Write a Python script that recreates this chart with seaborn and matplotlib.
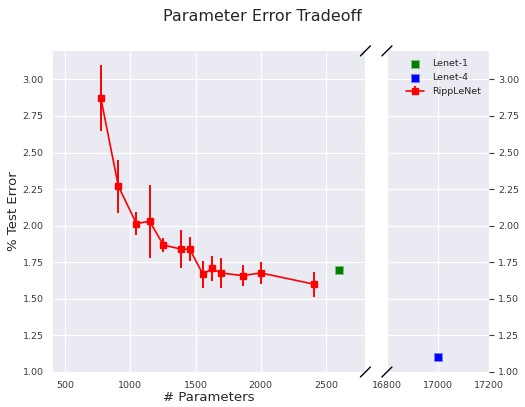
import matplotlib
matplotlib.use("Agg")
import matplotlib.pyplot as plt
import seaborn as sns
import pandas as pd

# ---- data ----
ripple_params = [773, 908, 1046, 1148, 1253, 1388, 1455, 1557, 1626, 1692, 1860, 2001, 2409]
ripple_error = [2.875, 2.27, 2.015, 2.03, 1.868, 1.84, 1.84, 1.667, 1.708, 1.677, 1.659, 1.677, 1.60]
ripple_err = [0.225, 0.18, 0.08, 0.25, 0.05, 0.13, 0.08, 0.09, 0.085, 0.10, 0.07, 0.075, 0.085]
lenet_names = ["Lenet-1", "Lenet-4"]
lenet_params = [2600, 17000]
lenet_error = [1.70, 1.10]
lenet_colors = ["green", "blue"]
left_xticks = [500, 1000, 1500, 2000, 2500]
right_xticks = [16800, 17000, 17200]
yticks = [1.00, 1.25, 1.50, 1.75, 2.00, 2.25, 2.50, 2.75, 3.00]

sns.set_style("darkgrid")
plt.rcParams["font.family"] = ["DejaVu Sans"]

fig = plt.figure(figsize=(5.25, 4.07), dpi=100)
ax1 = fig.add_axes([0.100, 0.086, 0.596, 0.789])
ax2 = fig.add_axes([0.737, 0.086, 0.195, 0.789])

eb = ax1.errorbar(ripple_params, ripple_error, yerr=ripple_err, color="red",
                  fmt="s-", ms=5, lw=1.2, elinewidth=1.4, label="RippLeNet")

l1 = pd.DataFrame({"params": [lenet_params[0]], "error": [lenet_error[0]]})
l4 = pd.DataFrame({"params": [lenet_params[1]], "error": [lenet_error[1]]})
sns.scatterplot(data=l1, x="params", y="error", ax=ax1, marker="s", s=28,
                color=lenet_colors[0], edgecolor="#7fbf7f", linewidth=0.6,
                zorder=3, legend=False)
sns.scatterplot(data=l4, x="params", y="error", ax=ax2, marker="s", s=28,
                color=lenet_colors[1], edgecolor="#7f7fff", linewidth=0.6,
                zorder=3, legend=False)
h1 = ax1.collections[-1]
h2 = ax2.collections[-1]

ylim = (1.0, 3.195)
for ax in (ax1, ax2):
    ax.set_ylim(*ylim)
    ax.set_yticks(yticks)
    ax.set_yticklabels([f"{v:.2f}" for v in yticks])
    ax.tick_params(labelsize=6.8, colors="#3a3a3a", pad=3)
    for s in ax.spines.values():
        s.set_visible(False)

ax1.set_xlim(403, 2802)
ax1.set_xticks(left_xticks)
ax2.set_xlim(16800, 17200)
ax2.set_xticks(right_xticks)
ax2.yaxis.tick_right()

ax1.set_xlabel("# Parameters", fontsize=9.5, color="#262626", labelpad=1)
ax1.set_ylabel("% Test Error", fontsize=9.5, color="#262626", labelpad=2)
ax2.set_xlabel("")
ax2.set_ylabel("")
fig.suptitle("Parameter Error Tradeoff", fontsize=11.5, color="#262626", y=0.977)

ax2.legend([h1, h2, eb], lenet_names + ["RippLeNet"], loc="upper center",
           frameon=False, fontsize=6.8, bbox_to_anchor=(0.55, 1.0))

# break marks
dx1, dy = 5 / 313, 5 / 321
kw = dict(color="k", clip_on=False, lw=1.0)
ax1.plot((1 - dx1, 1 + dx1), (1 - dy, 1 + dy), transform=ax1.transAxes, **kw)
ax1.plot((1 - dx1, 1 + dx1), (-dy, dy), transform=ax1.transAxes, **kw)
dx2 = 5 / 102
ax2.plot((-dx2, dx2), (1 - dy, 1 + dy), transform=ax2.transAxes, **kw)
ax2.plot((-dx2, dx2), (-dy, dy), transform=ax2.transAxes, **kw)

fig.savefig("out.png", dpi=100)
